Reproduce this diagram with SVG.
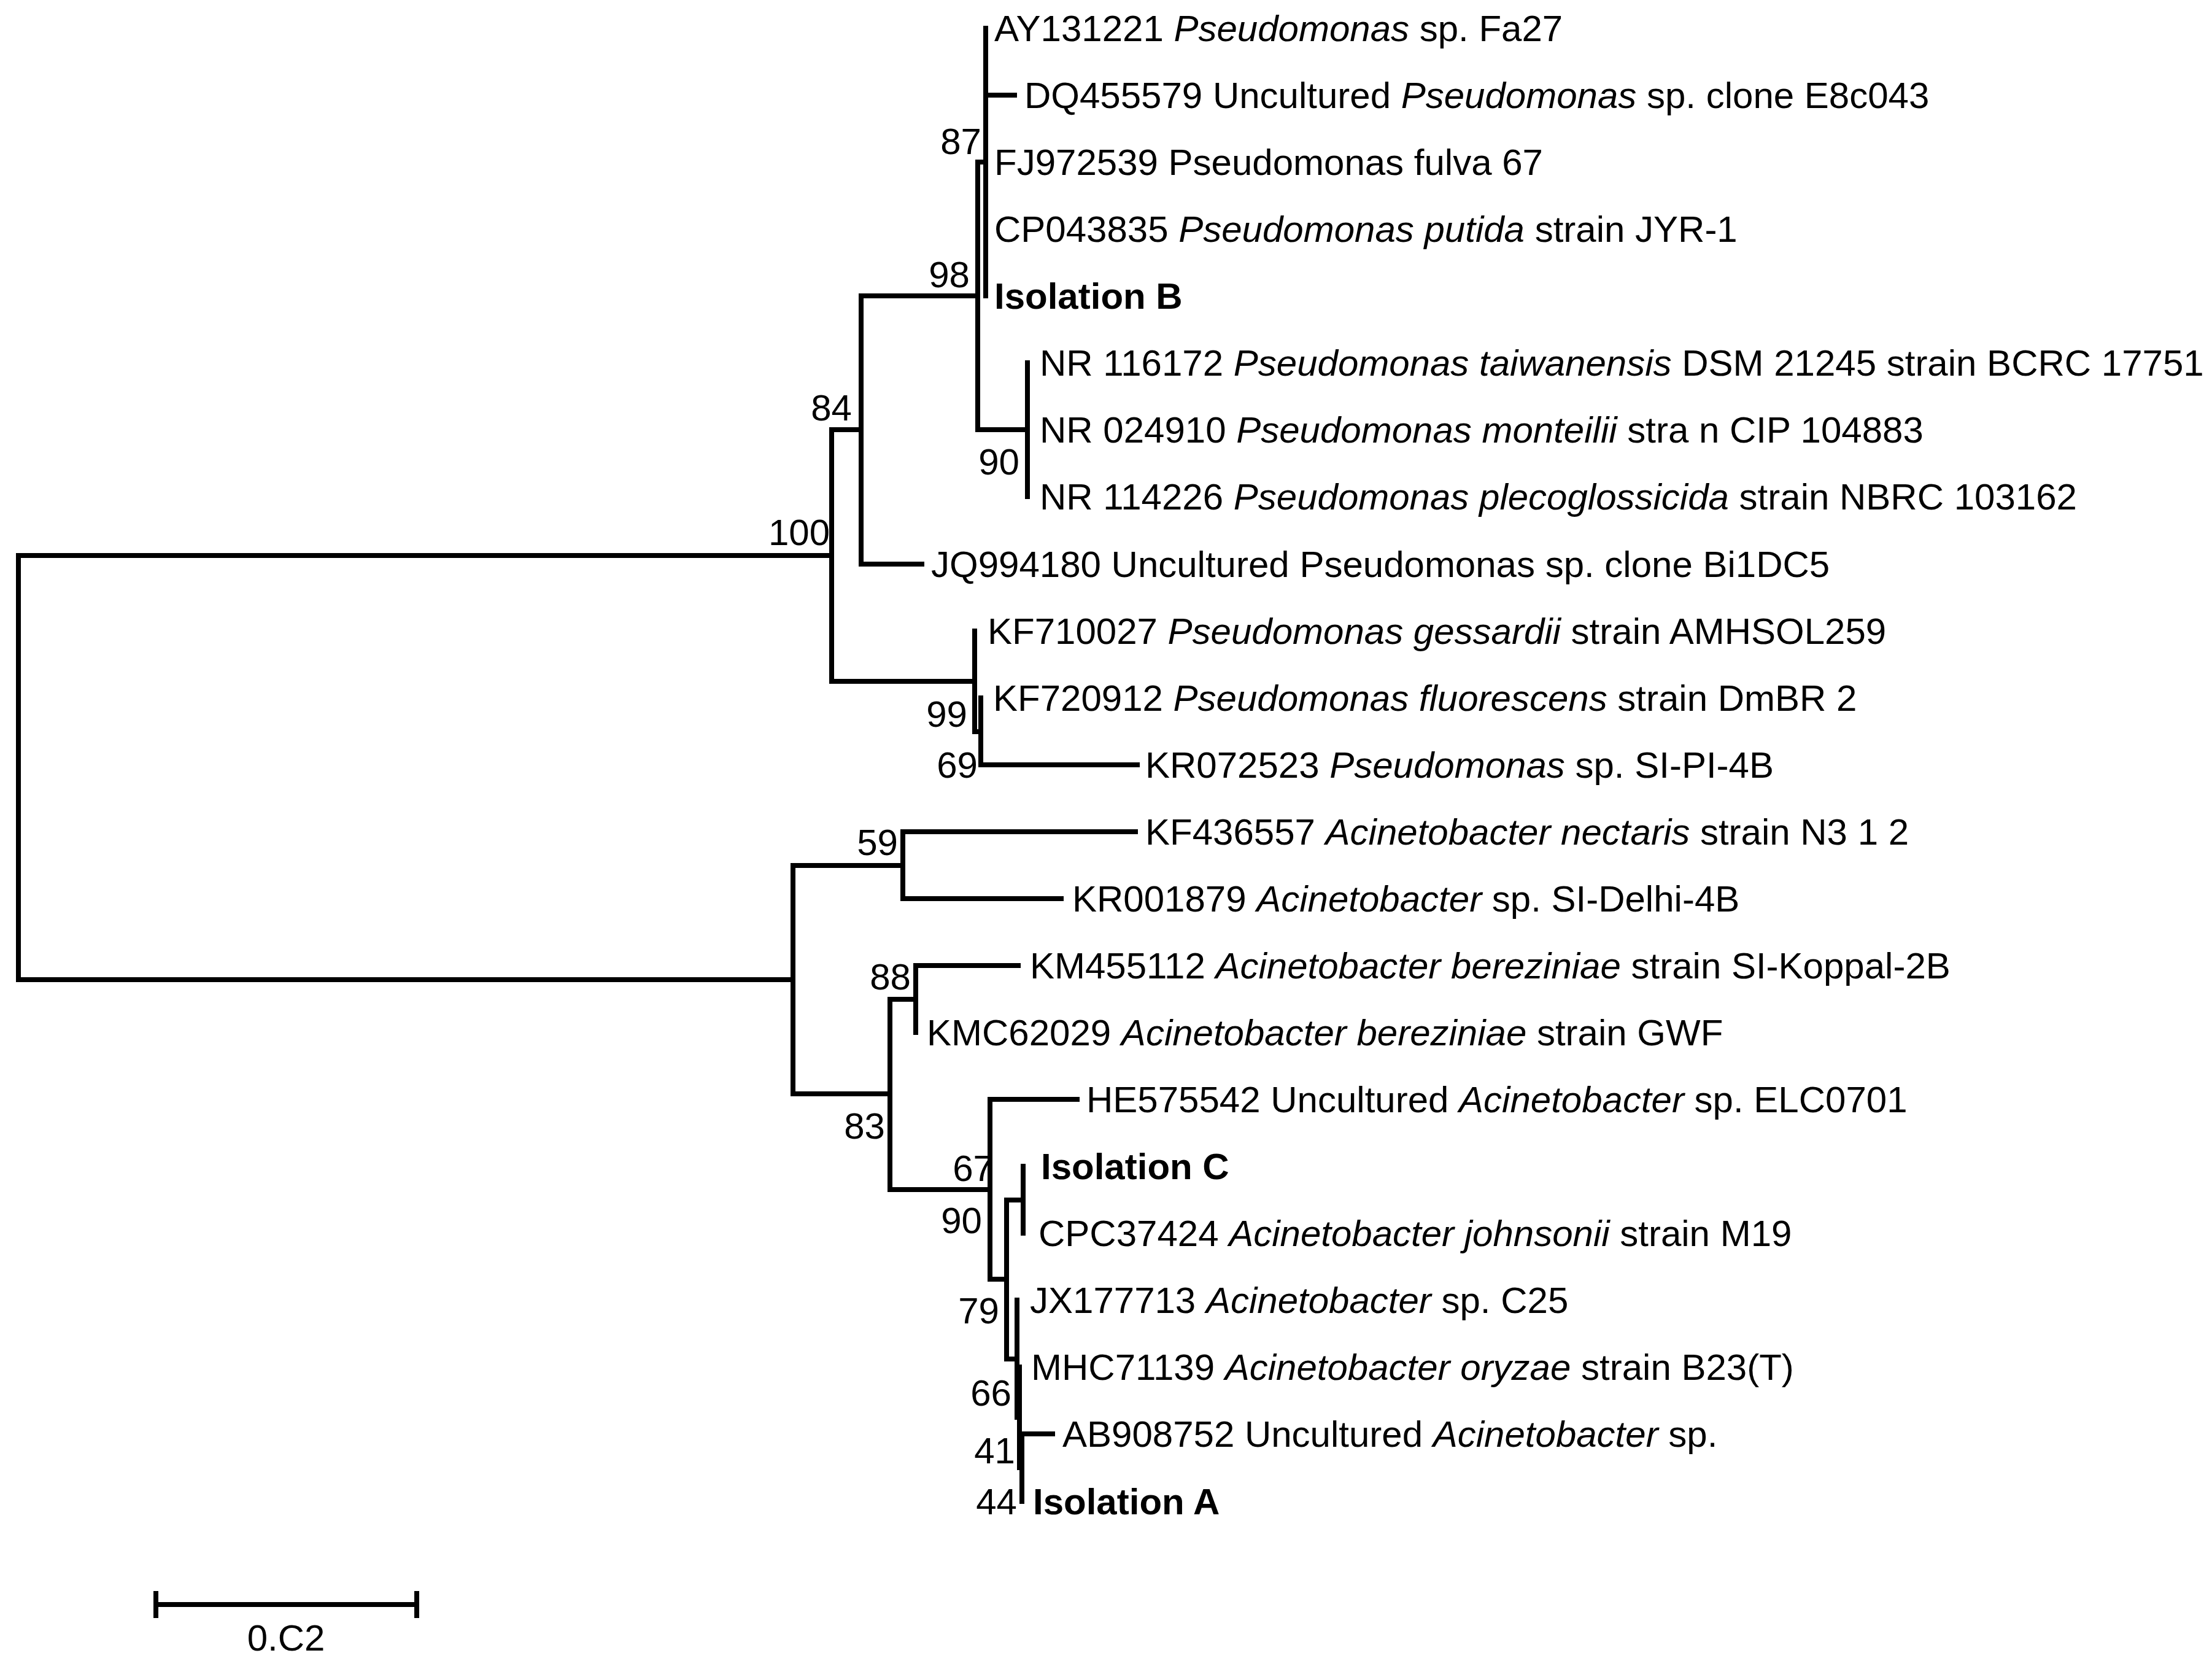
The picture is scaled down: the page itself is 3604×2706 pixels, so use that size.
<svg xmlns="http://www.w3.org/2000/svg" width="3604" height="2706" viewBox="0 0 3604 2706">
<style>
.br{fill:none;stroke:#000;stroke-width:8;stroke-linecap:square}
text{font-family:"Liberation Sans",Arial,sans-serif;font-size:60px;fill:#000}
.bs{text-anchor:end}
.i{font-style:italic}
.b{font-weight:bold}
</style>
<rect width="3604" height="2706" fill="#fff"/>
<g id="connectors">
<path class="br" d="M1355,905 H30 V1596 H1292"/>
<path class="br" d="M1403,700 H1355 V1110 H1588"/>
<path class="br" d="M1593,482 H1403 V919 H1502"/>
<path class="br" d="M1606,264 H1593 V700 H1674"/>
<path class="br" d="M1606,46 V482"/>
<path class="br" d="M1606,155 H1653"/>
<path class="br" d="M1674,591 V809"/>
<path class="br" d="M1588,1028 V1192 H1598"/>
<path class="br" d="M1598,1137 V1246 H1853"/>
<path class="br" d="M1471,1410 H1292 V1782 H1450"/>
<path class="br" d="M1850,1355 H1471 V1464 H1729"/>
<path class="br" d="M1492,1628 H1450 V1938 H1613"/>
<path class="br" d="M1659,1573 H1492 V1682"/>
<path class="br" d="M1755,1791 H1613 V2084 H1640"/>
<path class="br" d="M1667,1955 H1640 V2214 H1657"/>
<path class="br" d="M1667,1900 V2009"/>
<path class="br" d="M1657,2118 V2309 H1661"/>
<path class="br" d="M1661,2227 V2391 H1665"/>
<path class="br" d="M1665,2336 V2446"/>
<path class="br" d="M1665,2336 H1715"/>
</g>
<g id="leaf-AY131221"><text x="1620" y="67">AY131221 <tspan class="i">Pseudomonas</tspan> sp. Fa27</text></g>
<g id="leaf-DQ455579"><text x="1669" y="176">DQ455579 Uncultured <tspan class="i">Pseudomonas</tspan> sp. clone E8c043</text></g>
<g id="leaf-FJ972539"><text x="1620" y="285">FJ972539 Pseudomonas fulva 67</text></g>
<g id="leaf-CP043835"><text x="1620" y="394">CP043835 <tspan class="i">Pseudomonas putida</tspan> strain JYR-1</text></g>
<g id="leaf-IsolationB"><text class="b" x="1620" y="503">Isolation B</text></g>
<g id="leaf-NR116172"><text x="1694" y="612">NR 116172 <tspan class="i">Pseudomonas taiwanensis</tspan> DSM 21245 strain BCRC 17751</text></g>
<g id="leaf-NR024910"><text x="1694" y="721">NR 024910 <tspan class="i">Pseudomonas monteilii</tspan> stra n CIP 104883</text></g>
<g id="leaf-NR114226"><text x="1694" y="830">NR 114226 <tspan class="i">Pseudomonas plecoglossicida</tspan> strain NBRC 103162</text></g>
<g id="leaf-JQ994180"><text x="1517" y="940">JQ994180 Uncultured Pseudomonas sp. clone Bi1DC5</text></g>
<g id="leaf-KF710027"><text x="1609" y="1049">KF710027 <tspan class="i">Pseudomonas gessardii</tspan> strain AMHSOL259</text></g>
<g id="leaf-KF720912"><text x="1618" y="1158">KF720912 <tspan class="i">Pseudomonas fluorescens</tspan> strain DmBR 2</text></g>
<g id="leaf-KR072523"><text x="1866" y="1267">KR072523 <tspan class="i">Pseudomonas</tspan> sp. SI-PI-4B</text></g>
<g id="leaf-KF436557"><text x="1866" y="1376">KF436557 <tspan class="i">Acinetobacter nectaris</tspan> strain N3 1 2</text></g>
<g id="leaf-KR001879"><text x="1747" y="1485">KR001879 <tspan class="i">Acinetobacter</tspan> sp. SI-Delhi-4B</text></g>
<g id="leaf-KM455112"><text x="1678" y="1594">KM455112 <tspan class="i">Acinetobacter bereziniae</tspan> strain SI-Koppal-2B</text></g>
<g id="leaf-KM062029"><text x="1510" y="1703">KMC62029 <tspan class="i">Acinetobacter bereziniae</tspan> strain GWF</text></g>
<g id="leaf-HE575542"><text x="1770" y="1812">HE575542 Uncultured <tspan class="i">Acinetobacter</tspan> sp. ELC0701</text></g>
<g id="leaf-IsolationC"><text class="b" x="1696" y="1921">Isolation C</text></g>
<g id="leaf-CP037424"><text x="1692" y="2030">CPC37424 <tspan class="i">Acinetobacter johnsonii</tspan> strain M19</text></g>
<g id="leaf-JX177713"><text x="1678" y="2139">JX177713 <tspan class="i">Acinetobacter</tspan> sp. C25</text></g>
<g id="leaf-MH071139"><text x="1680" y="2248">MHC71139 <tspan class="i">Acinetobacter oryzae</tspan> strain B23(T)</text></g>
<g id="leaf-AB908752"><text x="1731" y="2357">AB908752 Uncultured <tspan class="i">Acinetobacter</tspan> sp.</text></g>
<g id="leaf-IsolationA"><text class="b" x="1683" y="2467">Isolation A</text></g>
<g id="bootstrap">
<text class="bs" x="1599" y="251">87</text>
<text class="bs" x="1580" y="468">98</text>
<text class="bs" x="1388" y="685">84</text>
<text class="bs" x="1352" y="888">100</text>
<text class="bs" x="1661" y="773">90</text>
<text class="bs" x="1576" y="1184">99</text>
<text class="bs" x="1593" y="1267">69</text>
<text class="bs" x="1463" y="1393">59</text>
<text class="bs" x="1484" y="1612">88</text>
<text class="bs" x="1442" y="1855">83</text>
<text class="bs" x="1619" y="1924">67</text>
<text class="bs" x="1600" y="2009">90</text>
<text class="bs" x="1628" y="2156">79</text>
<text class="bs" x="1648" y="2290">66</text>
<text class="bs" x="1654" y="2384">41</text>
<text class="bs" x="1657" y="2467">44</text>
</g>
<g id="scale-bar">
<path class="br" d="M254,2614 H679 M254,2592 V2636 M679,2592 V2636" stroke-linecap="butt" style="stroke-linecap:butt"/>
<text x="466" y="2689" text-anchor="middle">0.C2</text>
</g>
</svg>
